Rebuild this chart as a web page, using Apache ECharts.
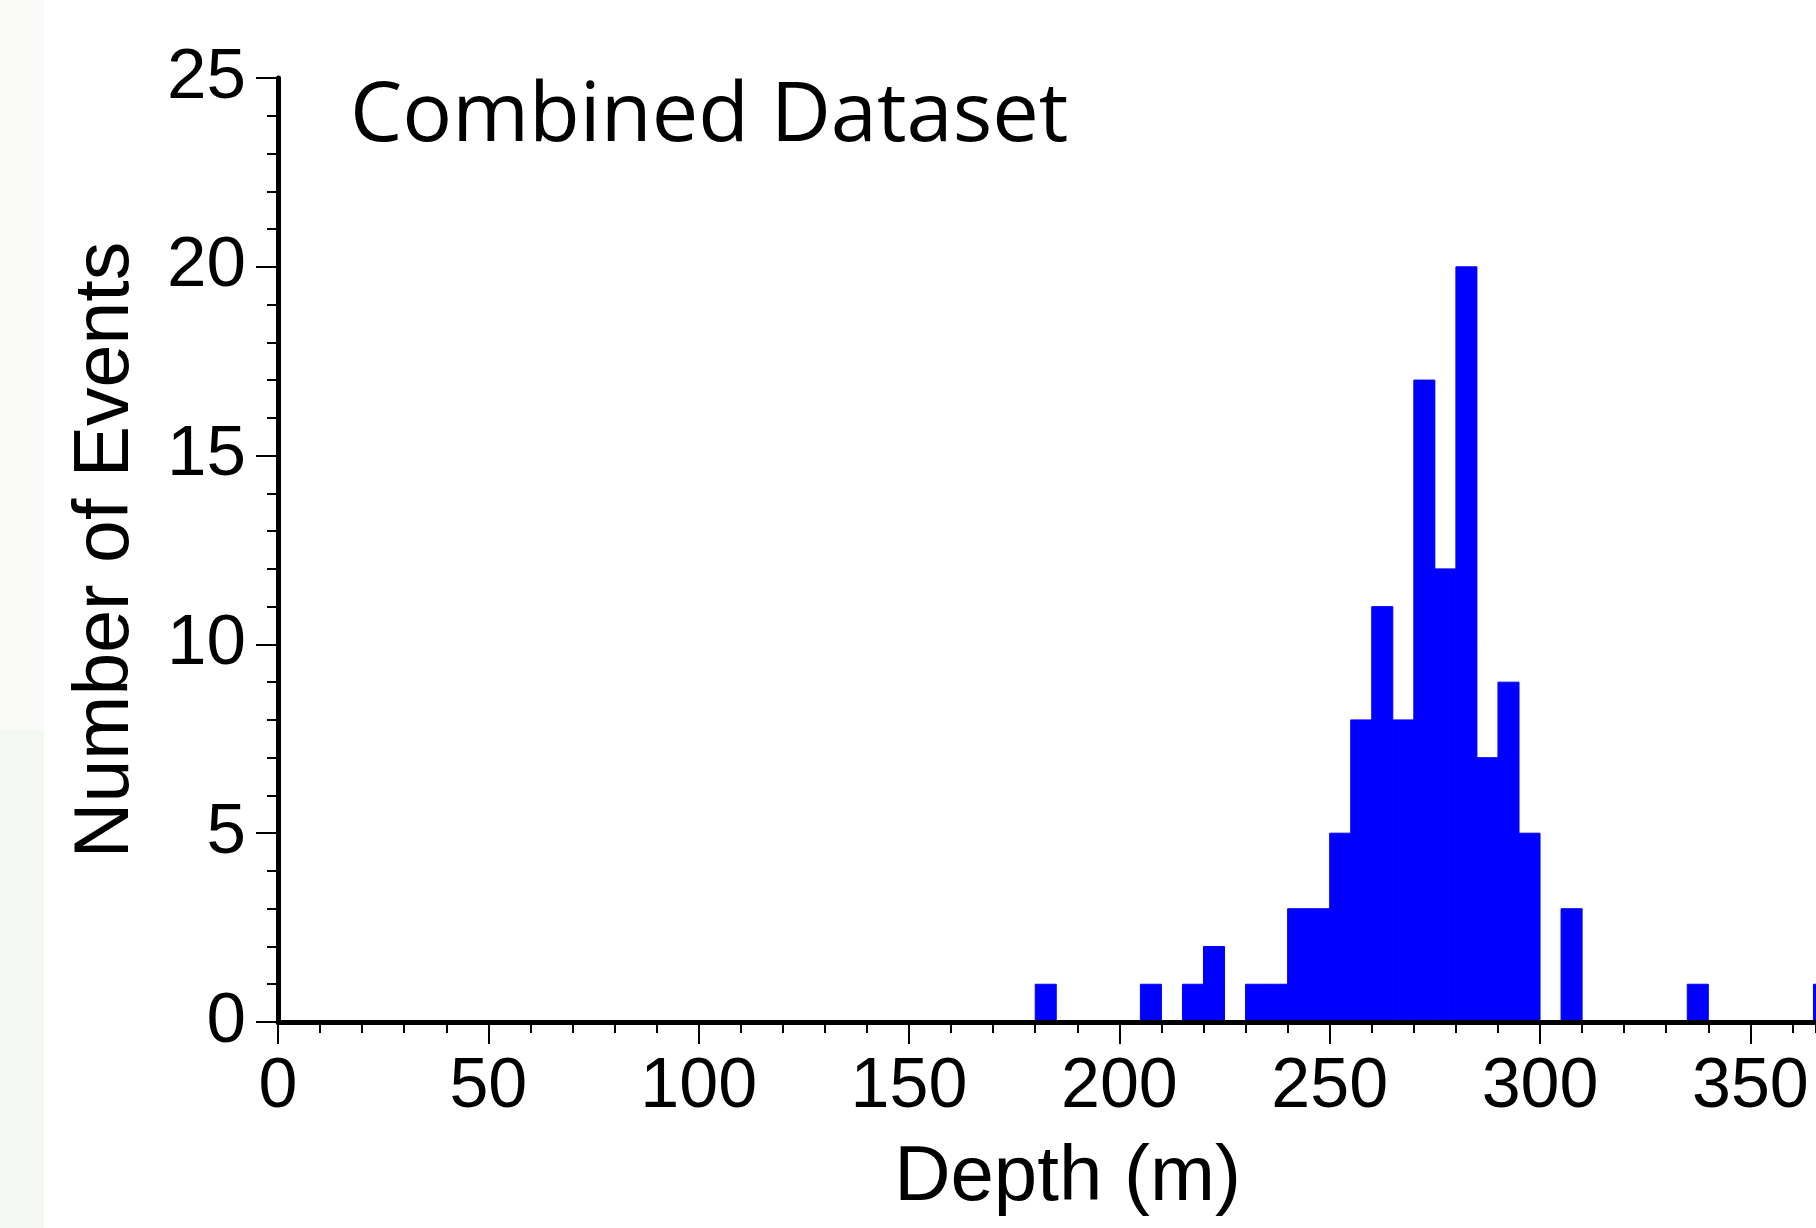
<!DOCTYPE html>
<html>
<head>
<meta charset="utf-8">
<script src="https://cdn.jsdelivr.net/npm/echarts@6/dist/echarts.min.js"></script>
<style>
html,body{margin:0;padding:0;background:#ffffff;}
#chart{width:1816px;height:1228px;}
</style>
</head>
<body>
<div id="chart"></div>
<script>
// Histogram bins (5 m wide): left edge of each non-empty bin and its count
const binStart = [180, 205, 215, 220, 230, 235, 240, 245, 250, 255, 260, 265, 270, 275, 280, 285, 290, 295, 305, 335, 365];
const counts   = [1,   1,   1,   2,   1,   1,   3,   3,   5,   8,   11,  8,   17,  12,  20,  7,   9,   5,   3,   1,   1];
const binWidth = 5;
const xTickLabels = [0, 50, 100, 150, 200, 250, 300, 350];
const yTickLabels = [0, 5, 10, 15, 20, 25];
const titleText = 'Combined Dataset';
const xName = 'Depth (m)';
const yName = 'Number of Events';

const rows = binStart.map((s, i) => [s, s + binWidth, counts[i]]);

const chart = echarts.init(document.getElementById('chart'), null, {renderer: 'canvas'});
const axisFont = '"Liberation Sans", Arial, Helvetica, sans-serif';

chart.setOption({
  backgroundColor: '#ffffff',
  animation: false,
  title: {
    text: titleText,
    left: 350,
    top: 76,
    padding: 0,
    textStyle: {fontFamily: '"Open Sans", sans-serif', fontWeight: 'normal', fontSize: 83, color: '#000'}
  },
  graphic: [
    {type: 'rect', shape: {x: 0, y: 0, width: 44, height: 730}, style: {fill: '#fafbf9'}, z: -10, silent: true},
    {type: 'rect', shape: {x: 0, y: 730, width: 44, height: 498}, style: {fill: '#f4f8f2'}, z: -10, silent: true}
  ],
  grid: {left: 278, right: 0, top: 78, bottom: 206, containLabel: false},
  xAxis: [
    {
      type: 'value', min: 0, max: 365.6, interval: 50, position: 'bottom', z: 5,
      axisLine: {show: true, onZero: false, lineStyle: {color: '#000', width: 5}},
      axisTick: {show: true, inside: false, length: 22, lineStyle: {color: '#000', width: 2}},
      splitLine: {show: false},
      axisLabel: {
        show: true, margin: 31, fontSize: 70, color: '#000', fontFamily: axisFont,
        showMaxLabel: false,
        formatter: v => (xTickLabels.indexOf(v) >= 0 ? String(v) : '')
      },
      name: xName, nameLocation: 'middle', nameGap: 117,
      nameTextStyle: {fontSize: 78, color: '#000', fontFamily: axisFont, padding: [0, 0, 0, 41]}
    },
    {
      type: 'value', min: 0, max: 365.6, interval: 10, position: 'bottom', z: 5,
      axisLine: {show: false, onZero: false},
      axisTick: {show: true, inside: false, length: 11, lineStyle: {color: '#000', width: 2}},
      axisLabel: {show: false},
      splitLine: {show: false}
    }
  ],
  yAxis: {
    type: 'value', min: 0, max: 25, interval: 5, z: 5,
    axisLine: {show: true, onZero: false, lineStyle: {color: '#000', width: 5}},
    axisTick: {show: true, inside: false, length: 22, lineStyle: {color: '#000', width: 2}},
    minorTick: {show: true, splitNumber: 5, length: 11, lineStyle: {color: '#000', width: 2}},
    splitLine: {show: false},
    minorSplitLine: {show: false},
    axisLabel: {
      margin: 32, fontSize: 71, color: '#000', fontFamily: axisFont,
      formatter: v => (yTickLabels.indexOf(v) >= 0 ? String(v) : '')
    },
    name: yName, nameLocation: 'middle', nameGap: 133,
    nameTextStyle: {fontSize: 77, color: '#000', fontFamily: axisFont}
  },
  series: [{
    type: 'custom',
    clip: true,
    xAxisIndex: 0,
    yAxisIndex: 0,
    encode: {x: [0, 1], y: 2},
    data: rows,
    renderItem: function (params, api) {
      const p0 = api.coord([api.value(0), api.value(2)]);
      const p1 = api.coord([api.value(1), 0]);
      return {
        type: 'rect',
        shape: {x: p0[0], y: p0[1], width: p1[0] - p0[0], height: p1[1] - p0[1]},
        style: {fill: '#0000ff', stroke: '#0000ff', lineWidth: 1}
      };
    }
  }]
});
</script>
</body>
</html>
